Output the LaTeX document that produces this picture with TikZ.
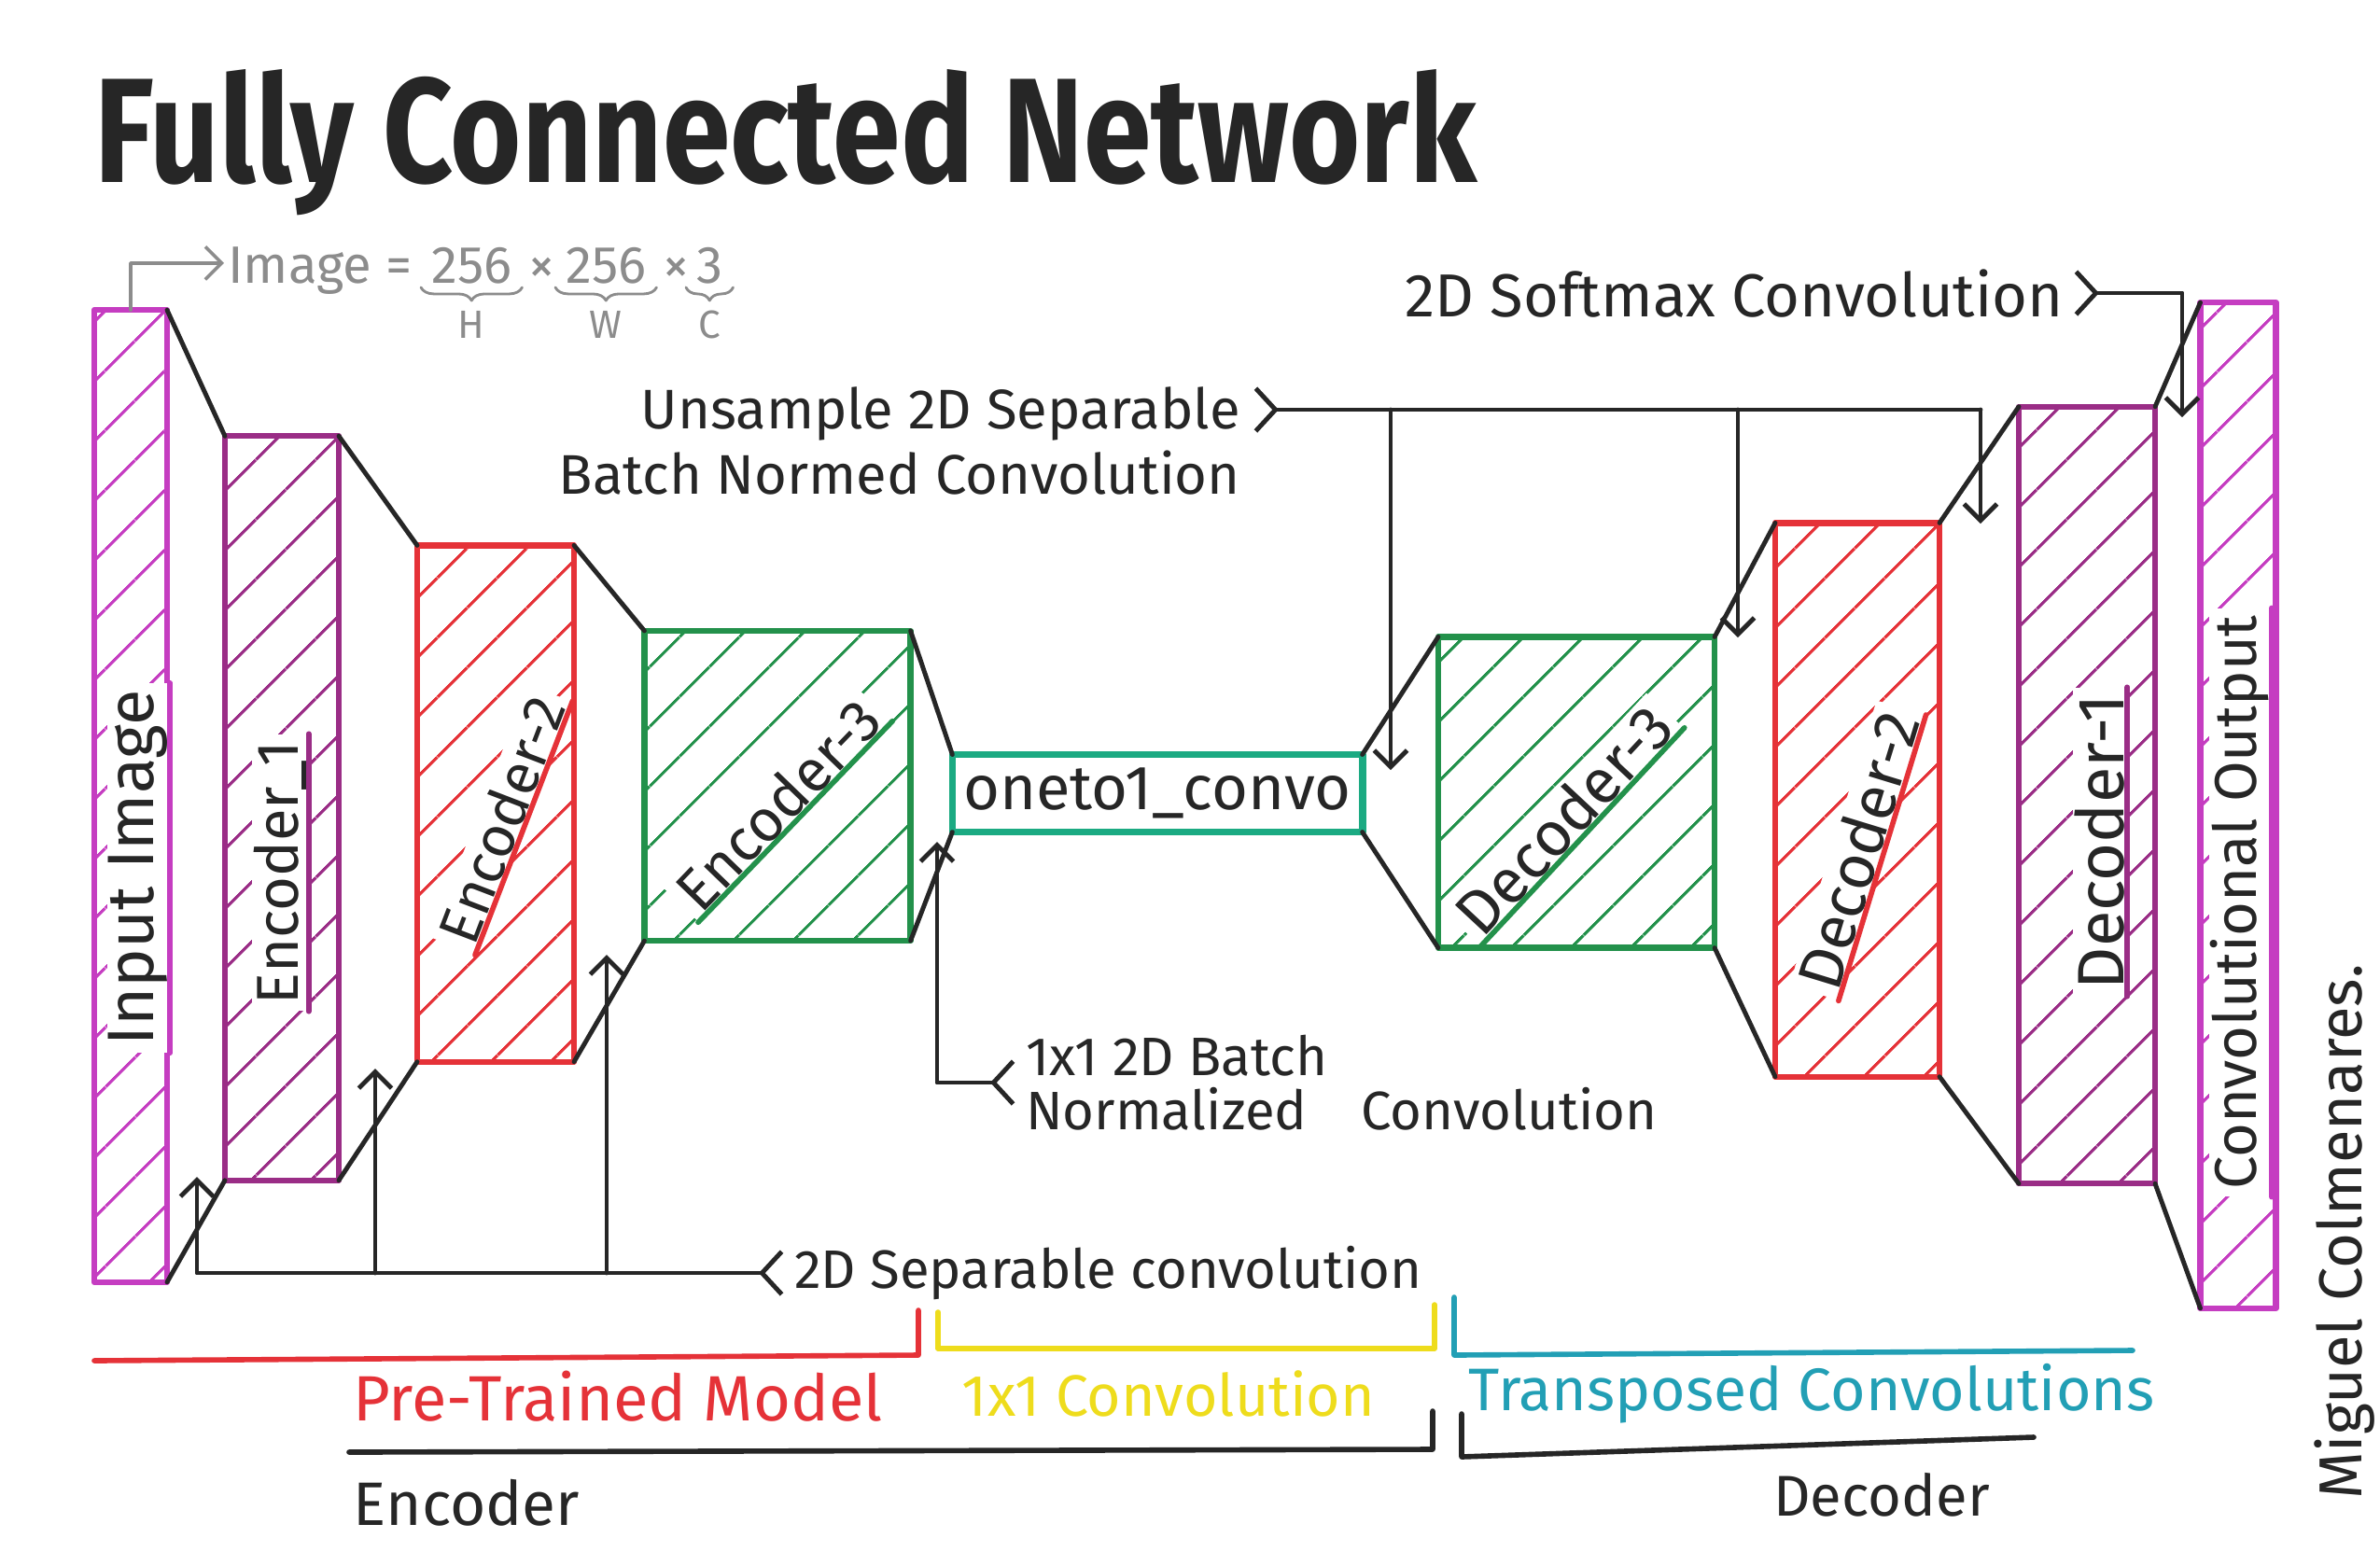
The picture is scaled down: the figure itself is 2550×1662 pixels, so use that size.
\documentclass[tikz,border=0pt]{standalone}
\usepackage{fontspec}
\usepackage{graphicx}
\setmainfont{Fira Sans}
\usepackage{tikz}
\usetikzlibrary{arrows.meta,patterns.meta,positioning,decorations.pathreplacing}
\definecolor{ink}{HTML}{262626}
\definecolor{pencil}{HTML}{8C8C8C}
\definecolor{mag}{HTML}{C53DC1}
\definecolor{plum}{HTML}{9A2D86}
\definecolor{redink}{HTML}{E53238}
\definecolor{grn}{HTML}{23914B}
\definecolor{midgrn}{HTML}{1BAA82}
\definecolor{yel}{HTML}{EEDC1C}
\definecolor{cyanink}{HTML}{229FB5}
\tikzset{
  every picture/.style={line join=round, line cap=round, >={Straight Barb[length=5pt,width=10pt]}},
  Tail/.tip={Straight Barb[reversed,length=6pt,width=13pt]},
  conn/.style={ink, line width=1.4pt},
  netbox/.style={draw=#1, pattern color=#1, pattern={Lines[angle=45,distance=13pt,line width=0.9pt]}, line width=1.8pt, inner sep=0pt, outer sep=0pt},
  boxtag/.style={fill=white, text=ink, inner xsep=2pt, inner ysep=0.5pt, font=\fontsize{#1}{#1}\selectfont},
  boxtag/.default=18,
  remark/.style={text=ink, inner sep=3pt, font=\fontsize{#1}{#1}\selectfont},
  remark/.default=17,
  pencilnote/.style={text=pencil, inner sep=1pt, font=\fontsize{16}{16}\selectfont},
  brace/.style={line width=1.6pt},
}

\begin{document}
\begin{tikzpicture}[x=0.01cm, y=-0.01cm]
\fill[white] (0,0) rectangle (2550,1662);
\useasboundingbox (0,0) rectangle (2550,1662);

% title
\node[anchor=base, text=ink, inner sep=0pt] (title) at (842,195) {\scalebox{1}[1.22]{\resizebox{14.8cm}{!}{\bfseries Fully Connected Network}}};

% layers
\node[netbox=mag, minimum width=0.78cm, minimum height=10.41cm] (inp) at (140,853) {};
\node[netbox=plum, minimum width=1.22cm, minimum height=7.97cm] (enc1) at (302,866) {};
\node[netbox=redink, minimum width=1.68cm, minimum height=5.53cm] (enc2) at (531,861) {};
\node[netbox=grn, minimum width=2.85cm, minimum height=3.32cm] (enc3) at (833,842) {};
\node[draw=midgrn, line width=2.2pt, fill=white, minimum width=4.39cm, minimum height=0.83cm, inner sep=0pt, outer sep=0pt, text=ink, font=\fontsize{19}{19}\selectfont] (mid) at (1240,850) {oneto1\_convo};
\node[netbox=grn, minimum width=2.96cm, minimum height=3.33cm] (dec3) at (1689,849) {};
\node[netbox=redink, minimum width=1.76cm, minimum height=5.93cm] (dec2) at (1990,857) {};
\node[netbox=plum, minimum width=1.46cm, minimum height=8.32cm] (dec1) at (2236,852) {};
\node[netbox=mag, minimum width=0.81cm, minimum height=10.77cm] (out) at (2398,863) {};

\foreach \a/\b in {inp/enc1, enc1/enc2, enc2/enc3, enc3/mid, mid/dec3, dec3/dec2, dec2/dec1, dec1/out}{
  \draw[conn] (\a.north east) -- (\b.north west);
  \draw[conn] (\a.south east) -- (\b.south west);
}

% layer names
\node[boxtag=20, rotate=90] (linp) at (148,930) {Input Image};
\node[boxtag=18, rotate=90] (lenc1) at (300,935) {Encoder\_1};
\node[boxtag=17.5, rotate=69] (lenc2) at (537,878) {Encoder-2};
\node[boxtag=18, rotate=46] (lenc3) at (833,862) {Encoder-3};
\node[boxtag=19, rotate=47] (ldec3) at (1675,878) {Decoder-3};
\node[boxtag=19, rotate=73] (ldec2) at (1990,911) {Decoder-2};
\node[boxtag=20, rotate=90] (ldec1) at (2250,902) {Decoder-1};
\node[boxtag=18, rotate=90] (lout) at (2400,967) {Convolutional Output};
\foreach \n/\c in {linp/mag, lenc1/plum, lenc2/redink, lenc3/grn, ldec3/grn, ldec2/redink, ldec1/plum, lout/mag}
  \draw[\c, line width=1.6pt] (\n.south west) -- (\n.south east);

% input size
\node[pencilnote, anchor=base west] (img) at (240,303) {Image =};
\node[pencilnote, anchor=base west] (hgt) at (458,303) {256};
\node[pencilnote, anchor=base west] (xa) at (562,303) {×};
\node[pencilnote, anchor=base west] (wid) at (602,303) {256};
\node[pencilnote, anchor=base west] (xb) at (706,303) {×};
\node[pencilnote, anchor=base west] (chn) at (742,303) {3};
\foreach \n/\t in {hgt/H, wid/W, chn/C}{
  \draw[pencil, line width=0.8pt, decorate, decoration={brace, mirror, amplitude=4pt}] ([xshift=-2pt]\n.south west) -- ([xshift=2pt]\n.south east);
  \node[pencilnote, font=\fontsize{12}{12}\selectfont, below=6pt of \n] (\n-dim) {\t};
}
\draw[pencil, line width=1pt, ->] (inp.north) |- ([yshift=6pt]img.base west);

% upsampling
\node[remark=17, anchor=north east, align=right, font=\fontsize{17}{20}\selectfont] (uns) at (1340,403) {Unsample 2D Separable\\Batch Normed Convolution};
\coordinate (ut) at (1343,439);
\coordinate (u1) at (1490,825);
\coordinate (u2) at (1862,683);
\coordinate (u3) at (2122,561);
\draw[conn, Tail-] (ut) -- (u3 |- ut);
\foreach \u in {u1,u2,u3}
  \draw[conn, ->] (\u |- ut) -- (\u);

% softmax
\node[remark=18.5, anchor=east] (smx) at (2222,314) {2D Softmax Convolution};
\coordinate (sm) at (2338,447);
\draw[conn, Tail->] (smx.east) -| (sm);

% separable convolution
\node[remark=16.5, anchor=west] (sepc) at (840,1364) {2D Separable convolution};
\coordinate (s1) at (211,1261);
\coordinate (s2) at (402,1145);
\coordinate (s3) at (650,1023);
\draw[conn, Tail->] (sepc.west) -| (s1);
\draw[conn, ->] (s2 |- sepc.west) -- (s2);
\draw[conn, ->] (s3 |- sepc.west) -- (s3);

% 1x1 convolution
\node[remark=16.5, anchor=west, align=left] (bnc) at (1088,1160) {1x1 2D Batch\\Normalized\quad Convolution};
\coordinate (b1) at (1004,902);
\draw[conn, Tail->] (bnc.west) -| (b1);

% brackets
\draw[redink, brace] (101,1458) -- (984,1452) -- (984,1404);
\draw[yel, brace] (1005,1406) -- (1005,1445) -- (1537,1445) -- (1537,1398);
\draw[cyanink, brace] (1558,1390) -- (1558,1452) -- (2285,1447);
\draw[ink, brace] (374,1556) -- (1535,1553) -- (1535,1512);
\draw[ink, brace] (1566,1515) -- (1566,1561) -- (2179,1540);

\node[remark=19.5, text=redink] (ptm) at (662,1496) {Pre-Trained Model};
\node[remark=17.8, text=yel] (c11) at (1252,1493) {1x1 Convolution};
\node[remark=18.3, text=cyanink] (tpc) at (1941,1493) {Transposed Convolutions};
\node[remark=18.7] (encl) at (500,1610) {Encoder};
\node[remark=17.5] (decl) at (2016,1602) {Decoder};
\node[remark=18.5, rotate=90] (auth) at (2512,1320) {Miguel Colmenares.};
\end{tikzpicture}
\end{document}
